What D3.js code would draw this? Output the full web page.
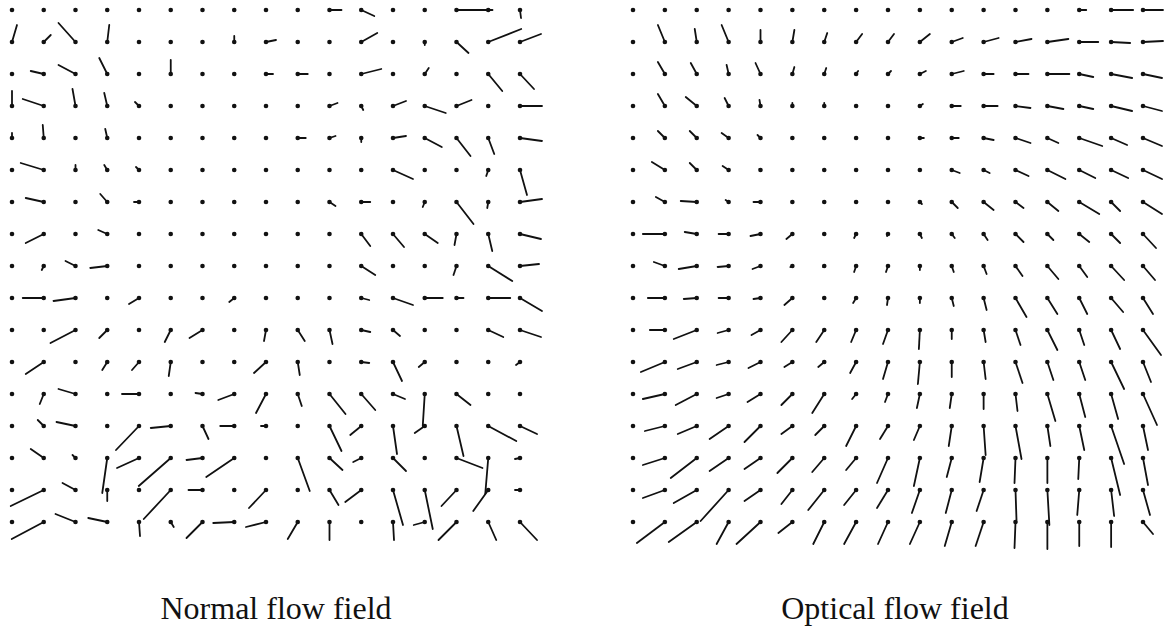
<!DOCTYPE html>
<html>
<head>
<meta charset="utf-8">
<script src="https://cdn.jsdelivr.net/npm/d3@7"></script>
<style>
  html, body { margin: 0; padding: 0; background: #fff; }
  svg { display: block; }
</style>
</head>
<body>
<script>
// Sample grid: 17 x 17 points per field
const gridCols = d3.range(17);
const gridRows = d3.range(17);

// Normal flow field: horizontal (u) and vertical (v, image-down) components, px/frame
const normalU = [
  [0,0,0,0,0,0,0,0,0,0,12,13,0,0,36,0,1],
  [5,7,-17,2,0,0,0,0,10,0,0,16,0,0,12,33,21],
  [0,-13,-17,-8,0,0,0,0,7,10,0,20,0,4,0,14,14],
  [0,-21,-3,-3,-4,0,0,0,0,0,8,2,13,21,15,0,22],
  [0,-1,0,-2,0,0,0,0,0,8,6,0,13,17,14,6,22],
  [0,-23,0,-3,-3,0,0,0,0,0,0,0,20,0,0,-2,7],
  [0,-18,0,-7,-5,0,0,0,0,0,6,9,0,-2,17,-1,22],
  [0,-18,0,-9,0,0,0,0,0,0,0,9,11,13,-2,4,21],
  [0,-2,-10,-17,0,0,0,0,0,0,0,14,0,0,-3,24,19],
  [0,-21,-22,0,-10,0,0,-5,0,0,0,8,20,18,7,22,22],
  [0,0,-25,-8,0,-6,-13,0,-2,7,3,9,7,0,0,15,21],
  [0,-18,0,-5,-7,-2,0,0,-12,2,0,8,9,-6,0,0,-4],
  [0,-4,-17,0,-17,0,-7,-16,-10,4,16,14,12,-2,14,0,0],
  [0,-6,-19,0,-23,-20,6,-14,-5,0,12,-11,4,-10,7,28,17],
  [0,-13,-3,-5,-22,-32,-16,-28,0,12,13,-8,13,0,26,-3,-5],
  [0,-33,-13,0,0,-27,-14,0,-17,0,9,-16,10,8,-15,-15,-5],
  [0,-32,-20,-19,1,3,-16,-21,-20,-10,0,0,1,-11,-18,8,17]
];
const normalV = [
  [0,0,0,0,0,0,0,0,0,0,0,6,0,0,0,0,8],
  [-17,-7,-19,-17,0,0,0,-6,-2,0,0,-9,0,3,11,-13,-8],
  [0,-3,-9,-16,0,-14,0,0,0,0,0,-5,0,-6,0,17,15],
  [-15,-7,-17,-13,-4,0,0,0,0,0,-3,4,-5,7,-6,0,0],
  [-5,-13,0,-9,0,0,0,0,0,0,-2,4,-2,9,18,16,3],
  [0,-7,-5,-5,-3,0,0,0,0,0,0,0,9,0,0,6,25],
  [0,-4,0,-8,0,0,0,0,0,0,4,0,0,5,22,6,-3],
  [0,9,0,-4,0,0,0,0,0,0,0,12,13,9,11,17,5],
  [0,4,-5,2,0,0,0,0,0,0,0,9,0,0,9,15,-2],
  [0,0,3,0,6,0,0,4,0,0,0,2,7,0,0,0,13],
  [0,0,13,8,0,12,8,0,11,11,14,2,6,0,0,7,7],
  [0,12,0,8,8,14,0,0,11,13,0,1,19,5,0,0,3],
  [0,10,-5,0,0,0,-1,6,19,12,20,16,5,32,11,0,0],
  [0,-6,-4,0,24,2,13,0,0,0,25,9,28,7,30,15,8],
  [0,-9,-3,35,10,28,2,19,0,33,12,4,13,0,10,36,1],
  [0,16,-7,11,0,29,0,0,18,0,15,12,35,39,16,21,0],
  [0,17,-8,-4,14,5,16,1,5,17,18,0,18,3,18,18,18]
];

// Optical flow field: same layout
const opticalU = [
  [0,0,0,0,0,0,0,0,0,0,0,0,0,0,7,22,20],
  [0,-7,-2,-7,0,2,3,6,6,10,11,15,16,21,19,19,20],
  [0,-7,-6,-2,-5,2,2,2,3,6,12,10,13,22,14,21,19],
  [0,-7,-11,-4,-1,0,0,0,0,3,9,14,15,16,14,21,19],
  [0,-7,-7,-7,-3,0,0,0,0,4,7,10,15,11,23,16,19],
  [0,-13,-7,-6,-1,0,0,0,0,0,8,6,13,18,16,17,19],
  [0,-9,-16,-3,-7,0,0,0,0,2,6,10,8,11,20,9,19],
  [0,-22,-12,-10,-10,-6,0,-2,-1,2,3,4,8,6,10,9,13],
  [0,-11,-18,-11,-8,-2,-1,-2,-2,0,2,3,7,11,8,13,12],
  [0,-17,-13,-10,-7,-8,0,-3,-1,0,2,3,11,10,8,12,10],
  [0,-15,-23,-11,-9,-11,-8,-5,-5,-1,0,2,5,10,5,9,18],
  [0,-24,-19,-12,-12,-8,-6,-6,-5,-2,0,2,7,6,6,13,8],
  [0,-22,-21,-12,-13,-11,-12,-4,-3,-3,-2,0,2,8,6,7,14],
  [0,-20,-19,-19,-16,-11,-9,-10,-8,-6,-3,2,6,3,5,13,5],
  [0,-22,-26,-19,-16,-15,-12,-10,-11,-6,-5,-4,-1,0,-1,9,5],
  [0,-22,-23,-28,-16,-11,-16,-12,-11,-8,-6,-7,1,2,-2,3,7],
  [0,-28,-28,-12,-24,-14,-11,-12,-10,-10,-7,-8,-1,0,0,0,10]
];
const opticalV = [
  [0,0,0,0,0,0,0,0,0,0,0,0,0,0,0,0,0],
  [0,-17,-13,-17,-12,-12,-9,-8,-8,-8,-4,-4,-3,-3,0,1,-1],
  [0,-12,-11,-9,-11,-7,-6,-3,-3,-3,-3,0,0,0,3,4,4],
  [0,-12,-9,-8,-6,-3,-3,0,0,-2,0,0,2,3,3,5,5],
  [0,-7,-7,-5,-3,0,0,0,0,0,0,2,5,5,8,7,8],
  [0,-8,-7,-4,-1,0,0,0,0,0,3,3,6,9,8,8,9],
  [0,-5,-1,-2,0,0,0,0,0,2,6,8,6,9,12,9,12],
  [0,0,-2,0,2,5,0,4,2,4,4,6,8,6,8,9,14],
  [0,-4,3,1,3,1,1,6,6,4,6,8,10,13,11,14,14],
  [0,0,1,0,1,7,0,5,7,5,8,12,19,16,16,14,16],
  [0,0,9,3,5,12,12,12,14,19,9,12,15,20,15,19,25],
  [0,10,7,3,6,5,5,11,17,22,15,17,21,18,18,27,20],
  [0,5,11,4,8,11,19,5,8,14,14,15,17,27,23,25,31],
  [0,5,8,13,16,8,9,20,13,14,20,29,33,20,24,38,24],
  [0,7,20,13,11,15,14,12,25,28,19,24,25,25,21,37,27],
  [0,8,13,31,11,14,20,15,18,23,23,21,30,35,25,26,25],
  [0,21,20,22,22,11,22,22,22,22,24,24,26,27,24,25,12]
];

const panelTitles = ["Normal flow field", "Optical flow field"];

const width = 1166, height = 630;
const svg = d3.select("body").append("svg")
  .attr("width", width).attr("height", height);

// Shared row scale, one column scale per field
const yGrid = d3.scaleLinear().domain([0, 16]).range([10, 522]);
const panels = [
  { title: panelTitles[0], U: normalU, V: normalV,
    x: d3.scaleLinear().domain([0, 16]).range([12, 520]), labelX: 276 },
  { title: panelTitles[1], U: opticalU, V: opticalV,
    x: d3.scaleLinear().domain([0, 16]).range([633, 1143]), labelX: 895 }
];
// Flow magnitude to screen length (1 unit = 1 px)
const flowLen = d3.scaleLinear().domain([0, 1]).range([0, 1]);

panels.forEach(p => {
  const pts = d3.cross(gridRows, gridCols).map(([r, c]) => ({
    r, c, u: p.U[r][c], v: p.V[r][c]
  }));
  const g = svg.append("g");

  g.selectAll("line.vec")
    .data(pts.filter(d => d.u !== 0 || d.v !== 0))
    .join("line")
    .attr("class", "vec")
    .attr("x1", d => p.x(d.c))
    .attr("y1", d => yGrid(d.r))
    .attr("x2", d => p.x(d.c) + flowLen(d.u))
    .attr("y2", d => yGrid(d.r) + flowLen(d.v))
    .attr("stroke", "#111")
    .attr("stroke-width", 1.8)
    .attr("stroke-linecap", "round");

  g.selectAll("circle.pt")
    .data(pts)
    .join("circle")
    .attr("class", "pt")
    .attr("cx", d => p.x(d.c))
    .attr("cy", d => yGrid(d.r))
    .attr("r", 2.3)
    .attr("fill", "#111");

  svg.append("text")
    .attr("x", p.labelX)
    .attr("y", 619)
    .attr("text-anchor", "middle")
    .attr("font-family", "'Liberation Serif', 'DejaVu Serif', serif")
    .attr("font-size", 32)
    .attr("fill", "#111")
    .text(p.title);
});
</script>
</body>
</html>
